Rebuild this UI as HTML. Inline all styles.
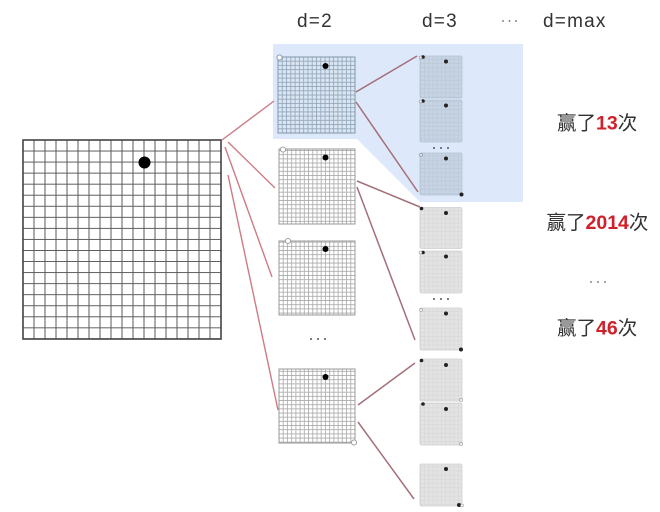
<!DOCTYPE html>
<html>
<head>
<meta charset="utf-8">
<style>
html,body{margin:0;padding:0;background:#fff;}
body{width:660px;height:512px;overflow:hidden;position:relative;}
svg{position:absolute;left:0;top:0;}
.t{font-family:"Liberation Sans","Noto Sans CJK SC",sans-serif;}
</style>
</head>
<body>
<svg width="660" height="512" viewBox="0 0 660 512" xmlns="http://www.w3.org/2000/svg">
<defs>
  <pattern id="big" patternUnits="userSpaceOnUse" x="22.5" y="139.5" width="11" height="11.05">
    <path d="M0.5 0V11.05M0 0.5H11" stroke="#5a5a5a" stroke-width="1" fill="none"/>
  </pattern>
  <pattern id="g2" patternUnits="userSpaceOnUse" x="278.5" y="0" width="4.222" height="4.167">
    <path d="M0.5 0V4.167M0 0.5H4.222" stroke="#a8a8a8" stroke-width="0.8" fill="none"/>
  </pattern>
  <pattern id="g2b" patternUnits="userSpaceOnUse" x="277.5" y="56.5" width="4.278" height="4.222">
    <path d="M0.5 0V4.222M0 0.5H4.278" stroke="#8fa3b8" stroke-width="0.8" fill="none"/>
  </pattern>
  <pattern id="g3" patternUnits="userSpaceOnUse" x="420" y="0" width="4.2" height="4.2">
    <path d="M0.5 0V4.2M0 0.5H4.2" stroke="#d6d6d6" stroke-width="0.6" fill="none"/>
  </pattern>
  <pattern id="g3b" patternUnits="userSpaceOnUse" x="420" y="0" width="4.2" height="4.2">
    <path d="M0.5 0V4.2M0 0.5H4.2" stroke="#b8c6d6" stroke-width="0.6" fill="none"/>
  </pattern>
</defs>

<!-- blue highlight -->
<polygon points="273,44 523,44 523,202 420,202 357,139 273,139" fill="#dde9fa"/>

<!-- big board -->
<rect x="23" y="140" width="198" height="199" fill="url(#big)"/>
<rect x="23" y="140" width="198" height="199" fill="none" stroke="#444" stroke-width="1.6"/>
<circle cx="144.5" cy="162.5" r="6" fill="#000"/>

<!-- level 1 connectors -->
<g stroke="#cd7c85" stroke-width="1.4" fill="none">
  <line x1="222" y1="140" x2="274" y2="101"/>
  <line x1="228" y1="142" x2="275" y2="188"/>
  <line x1="225" y1="147" x2="272" y2="277"/>
  <line x1="228" y1="175" x2="278" y2="410"/>
</g>

<!-- d=2 boards -->
<rect x="278" y="57" width="77" height="76" fill="#dbe6f3"/>
<rect x="278" y="57" width="77" height="76" fill="url(#g2b)"/>
<rect x="278" y="57" width="77" height="76" fill="none" stroke="#7f95aa" stroke-width="1"/>
<circle cx="325.5" cy="66" r="3" fill="#000"/>
<circle cx="279.5" cy="57.5" r="2.6" fill="#fff" stroke="#7f95aa" stroke-width="0.9"/>

<g>
  <rect x="279" y="149" width="76" height="75" fill="#fff"/>
  <rect x="279" y="149" width="76" height="75" fill="url(#g2)"/>
  <rect x="279" y="149" width="76" height="75" fill="none" stroke="#999" stroke-width="1"/>
  <circle cx="325.5" cy="157.5" r="3" fill="#000"/>
  <circle cx="283" cy="149.5" r="2.6" fill="#fff" stroke="#999" stroke-width="0.9"/>
</g>
<g>
  <rect x="279" y="241" width="76" height="74" fill="#fff"/>
  <rect x="279" y="241" width="76" height="74" fill="url(#g2)"/>
  <rect x="279" y="241" width="76" height="74" fill="none" stroke="#999" stroke-width="1"/>
  <circle cx="325.5" cy="249" r="3" fill="#000"/>
  <circle cx="288" cy="241" r="2.6" fill="#fff" stroke="#999" stroke-width="0.9"/>
</g>
<g>
  <rect x="279" y="369" width="76" height="74" fill="#fff"/>
  <rect x="279" y="369" width="76" height="74" fill="url(#g2)"/>
  <rect x="279" y="369" width="76" height="74" fill="none" stroke="#999" stroke-width="1"/>
  <circle cx="325.5" cy="377" r="3" fill="#000"/>
  <circle cx="354" cy="442.5" r="2.6" fill="#fff" stroke="#999" stroke-width="0.9"/>
</g>
<g fill="#555">
  <circle cx="311" cy="339" r="1"/>
  <circle cx="318" cy="339" r="1"/>
  <circle cx="325" cy="339" r="1"/>
</g>

<!-- level 2 connectors -->
<g stroke="#a46f78" stroke-width="1.5" fill="none">
  <line x1="356" y1="92" x2="417" y2="56"/>
  <line x1="356" y1="102" x2="418" y2="192"/>
  <line x1="357" y1="181" x2="420" y2="207"/>
  <line x1="357" y1="187" x2="415" y2="340"/>
  <line x1="358" y1="405" x2="415" y2="363"/>
  <line x1="358" y1="422" x2="414" y2="499"/>
</g>

<!-- d=3 boards (blue) -->
<g>
  <rect x="420" y="56" width="42" height="42" rx="1.5" fill="#c6d4e4"/>
  <rect x="420" y="56" width="42" height="42" fill="url(#g3b)"/>
  <rect x="420" y="100" width="42" height="42" rx="1.5" fill="#c6d4e4"/>
  <rect x="420" y="100" width="42" height="42" fill="url(#g3b)"/>
  <rect x="420" y="153" width="42" height="42" rx="1.5" fill="#c6d4e4"/>
  <rect x="420" y="153" width="42" height="42" fill="url(#g3b)"/>
  <g fill="none" stroke="#b3c2d3" stroke-width="0.8">
    <rect x="420" y="56" width="42" height="42" rx="1.5"/>
    <rect x="420" y="100" width="42" height="42" rx="1.5"/>
    <rect x="420" y="153" width="42" height="42" rx="1.5"/>
  </g>
  <g fill="#222">
    <circle cx="446" cy="61.5" r="2"/>
    <circle cx="446" cy="105.5" r="2"/>
    <circle cx="446" cy="158.5" r="2"/>
    <circle cx="423" cy="57" r="1.8"/>
    <circle cx="423" cy="101" r="1.8"/>
    <circle cx="461.5" cy="194.5" r="2"/>
  </g>
  <circle cx="420.5" cy="57.5" r="1.4" fill="#fff" stroke="#889" stroke-width="0.6"/>
  <circle cx="420.5" cy="101.5" r="1.4" fill="#fff" stroke="#889" stroke-width="0.6"/>
  <circle cx="421" cy="155" r="1.6" fill="#d8e2ee" stroke="#889" stroke-width="0.6"/>
  <g fill="#555">
    <circle cx="434" cy="148" r="1"/>
    <circle cx="441" cy="148" r="1"/>
    <circle cx="448" cy="148" r="1"/>
  </g>
</g>

<!-- d=3 boards (gray) -->
<g>
  <g fill="#e3e3e3">
    <rect x="420" y="207.5" width="42" height="41" rx="1.5"/>
    <rect x="420" y="251" width="42" height="42" rx="1.5"/>
    <rect x="420" y="308" width="42" height="42" rx="1.5"/>
    <rect x="420" y="359" width="42" height="42" rx="1.5"/>
    <rect x="420" y="403" width="42" height="42" rx="1.5"/>
    <rect x="420" y="464" width="42" height="42" rx="1.5"/>
  </g>
  <g fill="url(#g3)">
    <rect x="420" y="207.5" width="42" height="41"/>
    <rect x="420" y="251" width="42" height="42"/>
    <rect x="420" y="308" width="42" height="42"/>
    <rect x="420" y="359" width="42" height="42"/>
    <rect x="420" y="403" width="42" height="42"/>
    <rect x="420" y="464" width="42" height="42"/>
  </g>
  <g fill="none" stroke="#d0d0d0" stroke-width="0.8">
    <rect x="420" y="207.5" width="42" height="41" rx="1.5"/>
    <rect x="420" y="251" width="42" height="42" rx="1.5"/>
    <rect x="420" y="308" width="42" height="42" rx="1.5"/>
    <rect x="420" y="359" width="42" height="42" rx="1.5"/>
    <rect x="420" y="403" width="42" height="42" rx="1.5"/>
    <rect x="420" y="464" width="42" height="42" rx="1.5"/>
  </g>
  <g fill="#222">
    <circle cx="446" cy="213" r="2"/>
    <circle cx="446" cy="256.5" r="2"/>
    <circle cx="446" cy="313.5" r="2"/>
    <circle cx="446" cy="365" r="2"/>
    <circle cx="446" cy="409" r="2"/>
    <circle cx="446" cy="469" r="2"/>
    <circle cx="421.5" cy="208.5" r="1.8"/>
    <circle cx="423" cy="252.5" r="1.8"/>
    <circle cx="421.5" cy="360.5" r="1.8"/>
    <circle cx="423" cy="404" r="1.8"/>
    <circle cx="461" cy="349.5" r="2"/>
    <circle cx="459" cy="505" r="2"/>
  </g>
  <circle cx="420.5" cy="252.5" r="1.4" fill="#fff" stroke="#999" stroke-width="0.6"/>
  <circle cx="421" cy="310" r="1.6" fill="#eee" stroke="#999" stroke-width="0.6"/>
  <circle cx="461" cy="400" r="1.6" fill="#eee" stroke="#999" stroke-width="0.6"/>
  <circle cx="461" cy="444" r="1.6" fill="#eee" stroke="#999" stroke-width="0.6"/>
  <circle cx="462" cy="505.5" r="1.4" fill="#fff" stroke="#999" stroke-width="0.6"/>
  <g fill="#555">
    <circle cx="434" cy="299" r="1"/>
    <circle cx="441" cy="299" r="1"/>
    <circle cx="448" cy="299" r="1"/>
  </g>
</g>

<!-- headers -->
<g class="t" font-size="19" fill="#333" letter-spacing="1.2">
  <text x="297" y="27">d=2</text>
  <text x="422" y="27">d=3</text>
  <text x="543" y="27">d=max</text>
</g>
<g fill="#666">
  <circle cx="503" cy="21" r="0.9"/>
  <circle cx="509.5" cy="21" r="0.9"/>
  <circle cx="516" cy="21" r="0.9"/>
</g>

<!-- results -->
<g class="t" font-size="19.5" fill="#333">
  <text x="557" y="129.5">赢了<tspan fill="#d0202a" font-weight="bold">13</tspan>次</text>
  <text x="546.5" y="229">赢了<tspan fill="#d0202a" font-weight="bold">2014</tspan>次</text>
  <text x="557" y="334.5">赢了<tspan fill="#d0202a" font-weight="bold">46</tspan>次</text>
</g>
<g fill="#666">
  <circle cx="591" cy="282" r="0.9"/>
  <circle cx="598" cy="282" r="0.9"/>
  <circle cx="605" cy="282" r="0.9"/>
</g>
</svg>
</body>
</html>
